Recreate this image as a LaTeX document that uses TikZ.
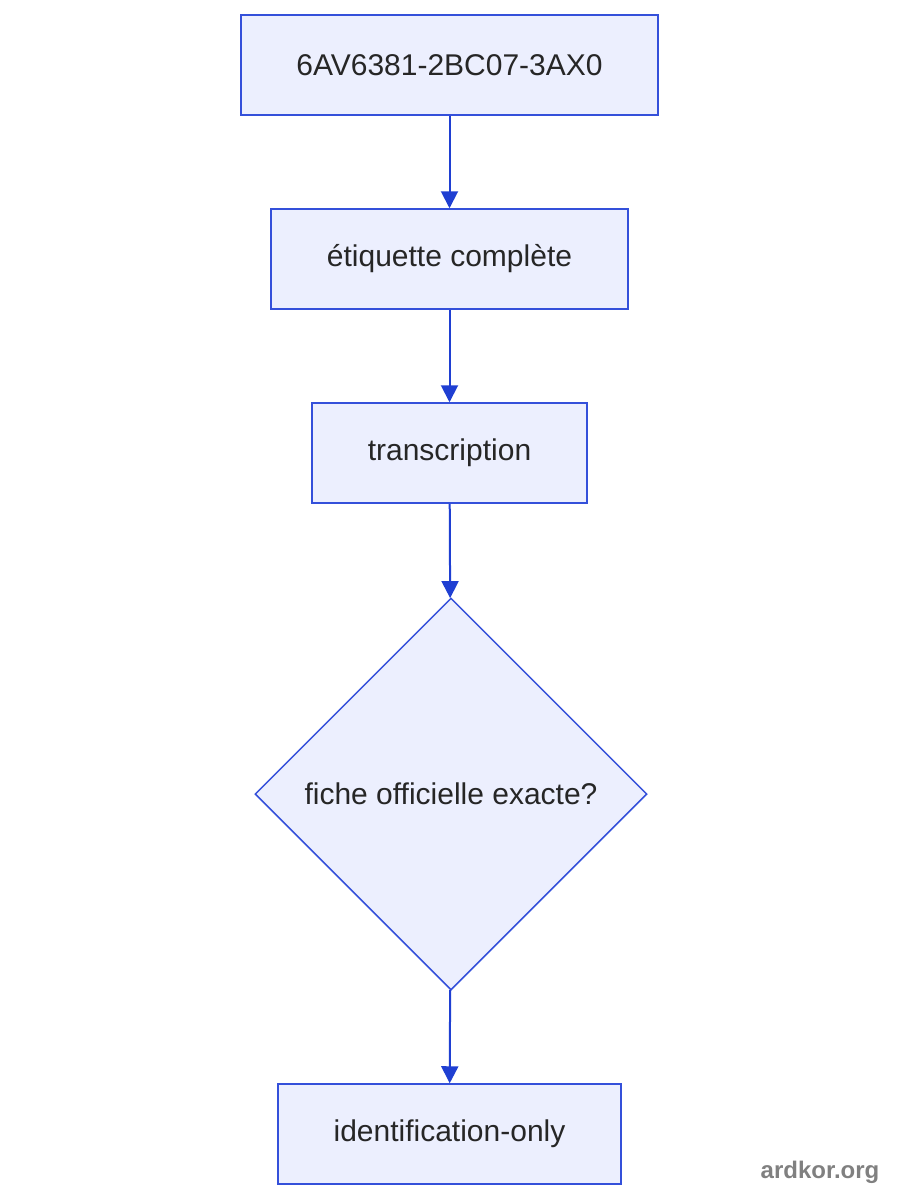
\documentclass[tikz,border=0pt]{standalone}
\usepackage{fontspec}
\setmainfont{Liberation Sans}
\usetikzlibrary{arrows.meta,shapes.geometric}
\definecolor{boxfill}{HTML}{ECEFFE}
\definecolor{boxline}{HTML}{3450DA}
\definecolor{edgeline}{HTML}{1F3FD2}
\definecolor{markgray}{HTML}{808080}
\begin{document}
\begin{tikzpicture}[x=1pt,y=-1pt,->,>={Triangle[width=17pt,length=17pt]},
semithick]
\tikzstyle{every node}=[font=\fontsize{30}{36}\selectfont,text=black!85]
\tikzstyle{stepbox}=[draw=boxline,fill=boxfill,line width=1.5pt,minimum height=100pt,inner sep=0pt]
\tikzstyle{question}=[diamond,draw=boxline,fill=boxfill,line width=1.5pt,minimum width=392pt,minimum height=392pt,inner sep=0pt]
\tikzstyle{link}=[color=edgeline,line width=2pt]
\useasboundingbox (0,0) rectangle (900,1200);
\node[stepbox,minimum width=417pt] (ref) at (449.5,65) {6AV6381-2BC07-3AX0};
\node[stepbox,minimum width=357pt] (label) at (449.5,259) {étiquette complète};
\node[stepbox,minimum width=275pt] (trans) at (449.5,453) {transcription};
\node[question] (sheet) at (451,794) {fiche officielle exacte?};
\node[stepbox,minimum width=343pt] (ident) at (449.5,1134) {identification-only};
\node[font=\bfseries\fontsize{24}{28}\selectfont,text=markgray] (mark) at (820,1172) {ardkor.org};
\path[link] (ref) edge (label)
      (label) edge (trans)
      (trans) edge (sheet)
      (sheet) edge (ident);
\end{tikzpicture}
\end{document}
